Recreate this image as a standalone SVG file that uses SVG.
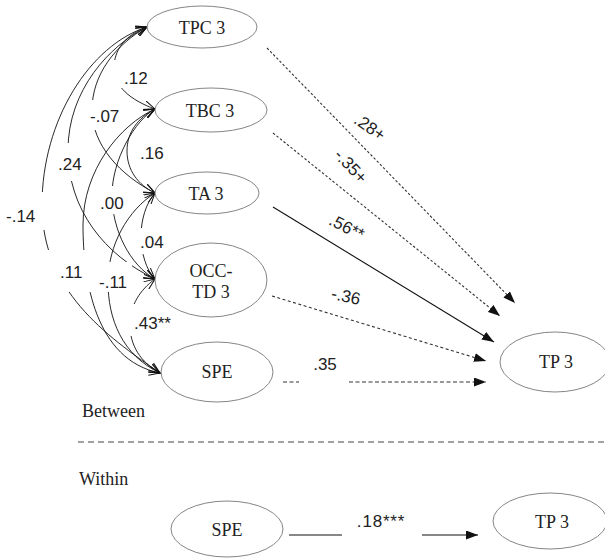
<svg xmlns="http://www.w3.org/2000/svg" width="605" height="558" viewBox="0 0 605 558">
<style>
.node{fill:#fff;stroke:#777;stroke-width:0.9}
.nt{font-family:"Liberation Serif","Times New Roman",serif;font-size:18px;fill:#222;text-anchor:middle}
.lb{font-family:"Liberation Sans",Arial,sans-serif;font-size:17px;fill:#222}
.cor{fill:none;stroke:#111;stroke-width:0.9;marker-start:url(#vh);marker-end:url(#vh)}
.pa{fill:none;stroke:#333;stroke-width:1.1;marker-end:url(#fh)}
.dash{stroke-dasharray:2.5 2}
.box{fill:#fff}
</style>
<defs>
<marker id="vh" viewBox="0 0 12 10" refX="11" refY="5" markerWidth="12" markerHeight="10" markerUnits="userSpaceOnUse" orient="auto-start-reverse">
<path d="M0,0.5 L11,5 L0,9.5" fill="none" stroke="#111" stroke-width="1"/>
</marker>
<marker id="fh" viewBox="0 0 12 9" refX="12" refY="4.5" markerWidth="12" markerHeight="9" markerUnits="userSpaceOnUse" orient="auto">
<path d="M0,0 L12,4.5 L0,9 z" fill="#111"/>
</marker>
</defs>
<rect width="605" height="558" fill="#fff"/>
<g id="connectors">
<path class="cor" d="M147,27 C90,45 42,120 42,205 S105,335 160,373"/>
<path class="cor" d="M147,27 C110,45 68,90 68,150 S105,255 155,279"/>
<path class="cor" d="M147,27 C115,45 92,75 92,110 S120,175 155,193"/>
<path class="cor" d="M147,27 C125,35 114,50 114,68 S130,100 155,109"/>
<path class="cor" d="M155,109 C120,125 83,170 83,225 S95,360 160,373"/>
<path class="cor" d="M155,109 C135,120 112,160 112,195 S130,265 155,279"/>
<path class="cor" d="M155,109 C138,118 127,132 127,151 S138,185 155,193"/>
<path class="cor" d="M155,193 C128,210 108,245 108,282 S122,355 160,373"/>
<path class="cor" d="M155,193 C146,203 141,220 141,236 S146,270 155,279"/>
<path class="cor" d="M155,279 C140,290 130,305 130,325 S140,362 160,373"/>
<rect class="box" x="110" y="60" width="42" height="28"/>
<rect class="box" x="87" y="100" width="36" height="30"/>
<rect class="box" x="54" y="143" width="32" height="38"/>
<rect class="box" x="2" y="192" width="44" height="38"/>
<rect class="box" x="137" y="142" width="30" height="22"/>
<rect class="box" x="98" y="186" width="30" height="28"/>
<rect class="box" x="46" y="250" width="46" height="42"/>
<rect class="box" x="136" y="228" width="32" height="26"/>
<rect class="box" x="98" y="262" width="34" height="30"/>
<rect class="box" x="128" y="304" width="48" height="32"/>
<text class="lb" x="124" y="84">.12</text>
<text class="lb" x="90" y="122">-.07</text>
<text class="lb" x="58" y="170">.24</text>
<text class="lb" x="6" y="222">-.14</text>
<text class="lb" x="140" y="159">.16</text>
<text class="lb" x="100" y="209">.00</text>
<text class="lb" x="60" y="278">.11</text>
<text class="lb" x="140" y="248">.04</text>
<text class="lb" x="99" y="288">-.11</text>
<text class="lb" x="134" y="329">.43**</text>
<path class="pa dash" d="M267,48 L515,303"/>
<path class="pa dash" d="M273,133 L500,316"/>
<path class="pa" d="M273,207 L494,342" style="stroke:#111"/>
<path class="pa" d="M272,296 L486,361" style="stroke-dasharray:3 2.5"/>
<path d="M283,382 L299,382" fill="none" stroke="#333" stroke-width="1.1" stroke-dasharray="4 2.5"/>
<path class="pa" d="M349,382 L486,382" style="stroke-dasharray:4 2.5"/>
<text class="lb" text-anchor="middle" transform="translate(370,127) rotate(35)" y="6">.28+</text>
<text class="lb" text-anchor="middle" transform="translate(351,166) rotate(47)" y="6">-.35+</text>
<text class="lb" text-anchor="middle" transform="translate(347,227) rotate(27)" y="6">.56**</text>
<text class="lb" text-anchor="middle" transform="translate(346,296) rotate(12)" y="6">-.36</text>
<text class="lb" text-anchor="middle" x="325" y="370">.35</text>
<path d="M289,535 L342,535" fill="none" stroke="#111" stroke-width="1"/>
<path class="pa" d="M422,535 L478,535" style="stroke:#111"/>
<text class="lb" text-anchor="middle" x="381" y="527" letter-spacing="0.8">.18***</text>
</g>
<g id="TPC3"><ellipse class="node" cx="202" cy="27" rx="55" ry="21"/><text class="nt" x="202" y="34">TPC 3</text></g>
<g id="TBC3"><ellipse class="node" cx="211" cy="110" rx="56" ry="22"/><text class="nt" x="210" y="117">TBC 3</text></g>
<g id="TA3"><ellipse class="node" cx="207" cy="193" rx="52" ry="21"/><text class="nt" x="206" y="200">TA 3</text></g>
<g id="OCCTD3"><ellipse class="node" cx="211" cy="280" rx="56" ry="37"/><text class="nt" x="211" y="277">OCC-</text><text class="nt" x="211" y="298">TD 3</text></g>
<g id="SPE_between"><ellipse class="node" cx="217" cy="372" rx="56" ry="30"/><text class="nt" x="217" y="378">SPE</text></g>
<g id="TP3_between"><ellipse class="node" cx="555" cy="362" rx="55" ry="30"/><text class="nt" x="556" y="368">TP 3</text></g>
<g id="labels">
<text class="nt" x="82" y="417" style="text-anchor:start">Between</text>
<line x1="78" y1="442" x2="605" y2="442" stroke="#444" stroke-width="1.2" stroke-dasharray="6 4"/>
<text class="nt" x="79" y="485" style="text-anchor:start">Within</text>
</g>
<g id="SPE_within"><ellipse class="node" cx="227" cy="529" rx="56" ry="28"/><text class="nt" x="227" y="536">SPE</text></g>
<g id="TP3_within"><ellipse class="node" cx="550" cy="521" rx="57" ry="28"/><text class="nt" x="552" y="528">TP 3</text></g>
</svg>
